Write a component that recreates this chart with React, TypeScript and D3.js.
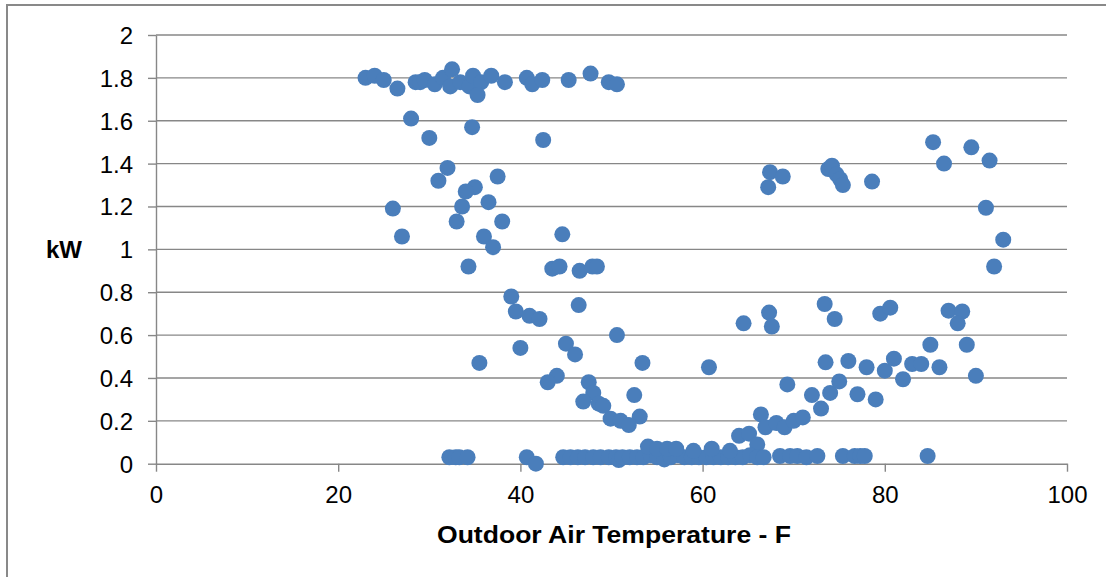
import React, { useEffect, useRef } from 'react';
import * as d3 from 'd3';

// [temperature F, kW]
const topRow: [number, number][] = [
    [23.0, 1.80], [24.0, 1.81], [25.0, 1.79], [26.5, 1.75], [28.5, 1.78], [29.0, 1.78],
    [29.5, 1.79], [30.6, 1.77], [31.5, 1.80], [32.5, 1.84], [32.3, 1.76], [33.4, 1.78],
    [34.4, 1.76], [34.8, 1.81], [35.7, 1.78], [35.3, 1.72], [36.8, 1.81], [38.3, 1.78],
    [40.7, 1.80], [41.3, 1.77], [42.4, 1.79], [45.3, 1.79], [47.7, 1.82], [49.7, 1.78],
    [50.6, 1.77],
];

const coldSide: [number, number][] = [
    [28.0, 1.61], [30.0, 1.52], [34.7, 1.57], [42.5, 1.51], [32.0, 1.38], [31.0, 1.32],
    [37.5, 1.34], [35.0, 1.29], [34.0, 1.27], [26.0, 1.19], [33.6, 1.20], [36.5, 1.22],
    [33.0, 1.13], [38.0, 1.13], [27.0, 1.06], [36.0, 1.06], [44.6, 1.07], [37.0, 1.01],
    [34.3, 0.92], [43.5, 0.91], [44.3, 0.92], [46.5, 0.90], [47.9, 0.92], [48.4, 0.92],
    [39.0, 0.78], [46.4, 0.74], [39.5, 0.71], [41.0, 0.69], [42.1, 0.675], [50.6, 0.60],
    [40.0, 0.54], [45.0, 0.56], [46.0, 0.51], [35.5, 0.47], [53.4, 0.47], [44.0, 0.41],
    [43.0, 0.38], [47.5, 0.38], [48.0, 0.33], [52.5, 0.32], [46.9, 0.29], [48.6, 0.28],
    [49.1, 0.27], [53.1, 0.22], [49.9, 0.21], [51.0, 0.20], [51.9, 0.18],
];

const warmSide: [number, number][] = [
    [60.7, 0.45], [64.5, 0.655], [67.3, 0.705], [67.6, 0.64], [69.3, 0.37], [66.4, 0.23],
    [66.9, 0.17], [68.1, 0.19], [69.0, 0.17], [70.0, 0.20], [71.0, 0.216], [64.0, 0.13],
    [65.1, 0.14], [66.0, 0.09], [73.0, 0.257], [72.0, 0.32], [74.0, 0.33], [75.0, 0.384],
    [73.5, 0.473], [76.0, 0.479], [78.0, 0.45], [77.0, 0.324], [79.0, 0.30], [80.0, 0.434],
    [81.0, 0.49], [82.0, 0.394], [83.0, 0.465], [84.0, 0.465], [85.0, 0.555], [86.0, 0.45],
    [89.0, 0.555], [90.0, 0.41], [73.4, 0.745], [74.5, 0.675], [79.5, 0.70], [80.6, 0.728],
    [87.0, 0.714], [88.5, 0.71], [88.0, 0.655], [67.4, 1.36], [67.2, 1.29], [68.8, 1.34],
    [73.8, 1.375], [74.2, 1.39], [74.7, 1.35], [75.1, 1.327], [75.4, 1.30], [78.6, 1.316],
    [85.3, 1.50], [86.5, 1.40], [89.5, 1.476], [91.5, 1.414], [91.1, 1.194], [93.0, 1.045],
    [92.0, 0.92],
];

const offRow: [number, number][] = [
    [32.2, 0.03], [32.9, 0.03], [33.3, 0.03], [34.2, 0.03], [40.7, 0.03], [41.7, 0.0],
    [44.7, 0.03], [45.5, 0.03], [46.3, 0.03], [47.1, 0.03], [48.0, 0.03], [48.8, 0.03],
    [49.7, 0.03], [50.5, 0.03], [50.8, 0.017], [51.2, 0.03], [52.0, 0.03], [52.8, 0.03],
    [53.5, 0.03], [54.3, 0.04], [55.0, 0.03], [55.8, 0.02], [56.5, 0.03], [57.3, 0.04],
    [58.0, 0.03], [58.8, 0.03], [59.6, 0.03], [60.4, 0.03], [61.2, 0.03], [62.0, 0.03],
    [62.8, 0.03], [63.6, 0.03], [64.4, 0.03], [65.2, 0.04], [66.0, 0.03], [66.7, 0.03],
    [54.0, 0.08], [55.0, 0.07], [56.1, 0.07], [57.1, 0.07], [59.0, 0.06], [61.0, 0.07],
    [63.0, 0.06], [68.5, 0.036], [69.6, 0.036], [70.4, 0.036], [71.4, 0.03], [72.6, 0.036],
    [75.4, 0.036], [76.7, 0.036], [77.3, 0.036], [77.8, 0.036], [84.7, 0.036],
];

const xTicks = [0, 20, 40, 60, 80, 100];
const yTicks = [0, 0.2, 0.4, 0.6, 0.8, 1, 1.2, 1.4, 1.6, 1.8, 2];

const FONT = '"Liberation Sans", Arial, sans-serif';
const GRID = '#878787';

const App: React.FC = () => {
    const svgRef = useRef<SVGSVGElement>(null);

    useEffect(() => {
        if (!svgRef.current) return;
        const svg = d3.select(svgRef.current);
        svg.selectAll('*').remove();

        const x = d3.scaleLinear().domain([0, 100]).range([156, 1067]);
        const y = d3.scaleLinear().domain([0, 2]).range([463.7, 35]);

        // chart frame
        svg.append('rect')
            .attr('x', 7).attr('y', 5)
            .attr('width', 1120).attr('height', 600)
            .attr('fill', '#fff')
            .attr('stroke', '#898989').attr('stroke-width', 2);

        // horizontal gridlines
        svg.append('g')
            .selectAll('line')
            .data(yTicks.filter(d => d > 0))
            .join('line')
            .attr('x1', x(0)).attr('x2', x(100))
            .attr('y1', d => y(d)).attr('y2', d => y(d))
            .attr('stroke', GRID).attr('stroke-width', 1.4);

        // y axis
        const yAxis = svg.append('g')
            .attr('transform', `translate(${x(0)},0)`)
            .call(d3.axisLeft(y).tickValues(yTicks).tickSize(8).tickSizeOuter(0).tickPadding(15)
                .tickFormat(d => String(d)));
        yAxis.select('.domain').attr('stroke', GRID).attr('stroke-width', 1.4);
        yAxis.selectAll('.tick line').attr('stroke', GRID).attr('stroke-width', 1.4);
        yAxis.selectAll('.tick text')
            .attr('font-family', FONT).attr('font-size', 24).attr('fill', '#000')
            .attr('dy', '0.35em');

        // x axis
        const xAxis = svg.append('g')
            .attr('transform', `translate(0,${y(0)})`)
            .call(d3.axisBottom(x).tickValues(xTicks).tickSize(8).tickSizeOuter(0).tickPadding(14)
                .tickFormat(d => String(d)));
        xAxis.select('.domain').attr('stroke', GRID).attr('stroke-width', 1.4);
        xAxis.selectAll('.tick line').attr('stroke', GRID).attr('stroke-width', 1.4);
        xAxis.selectAll('.tick text')
            .attr('font-family', FONT).attr('font-size', 24).attr('fill', '#000');

        // points
        const all = [...topRow, ...coldSide, ...warmSide, ...offRow];
        svg.append('g')
            .selectAll('circle')
            .data(all)
            .join('circle')
            .attr('cx', d => x(d[0]))
            .attr('cy', d => y(d[1]))
            .attr('r', 8)
            .attr('fill', '#4A7EBB');

        // axis titles
        svg.append('text')
            .attr('x', 64).attr('y', y(1) + 8.5)
            .attr('text-anchor', 'middle')
            .attr('font-family', FONT).attr('font-size', 24).attr('font-weight', 'bold')
            .text('kW');

        svg.append('text')
            .attr('x', 614).attr('y', 543)
            .attr('text-anchor', 'middle')
            .attr('font-family', FONT).attr('font-size', 24).attr('font-weight', 'bold')
            .attr('textLength', 354).attr('lengthAdjust', 'spacingAndGlyphs')
            .text('Outdoor Air Temperature - F');
    }, []);

    return (
        <svg ref={svgRef} width={1106} height={577}
            style={{ position: 'absolute', left: 0, top: 0, background: '#fff' }}></svg>
    );
};

export default App;
